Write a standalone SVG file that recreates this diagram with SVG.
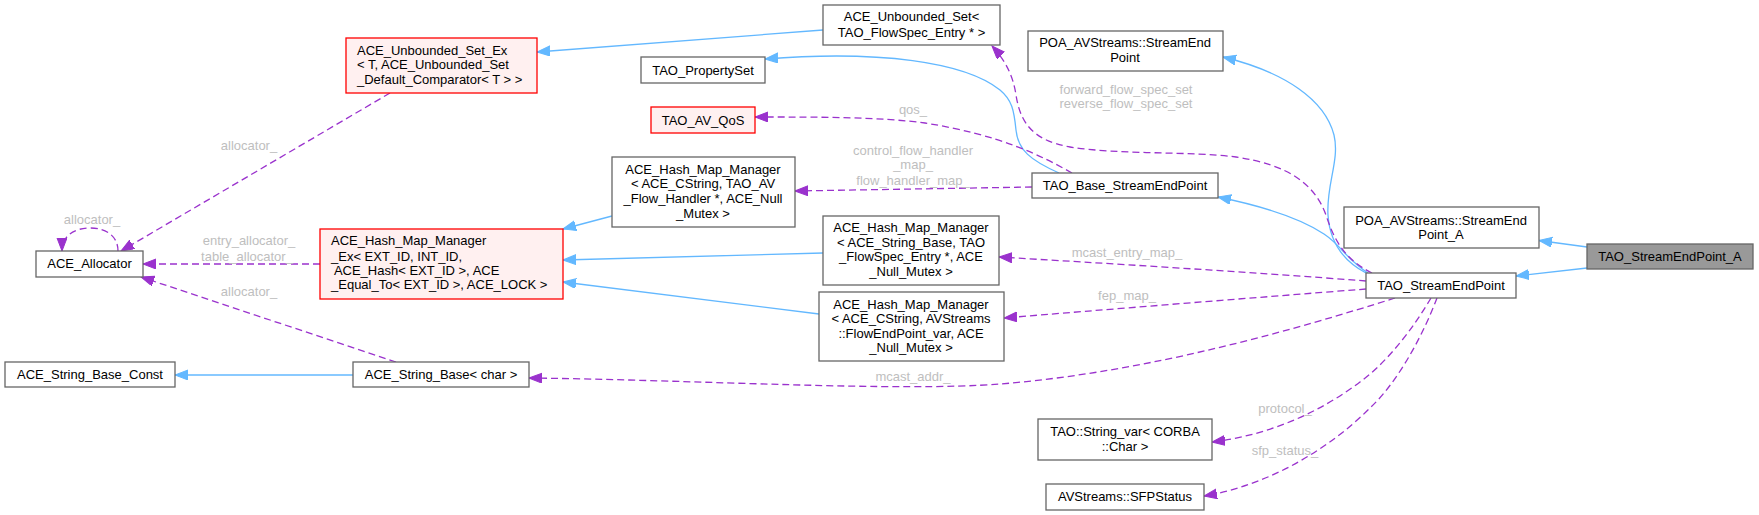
<svg xmlns="http://www.w3.org/2000/svg" width="1759" height="515" viewBox="0 0 1759 515">
<style>
.n rect{fill:#ffffff;stroke:#666666;stroke-width:1.3}
.n.red rect{fill:#fff0f0;stroke:#ff0000}
.n.main rect{fill:#999999;stroke:#666666}
.n text{font-family:"Liberation Sans",Arial,sans-serif;font-size:13px;fill:#000000}
.c{text-anchor:middle}
.lbl{font-family:"Liberation Sans",Arial,sans-serif;font-size:13px;fill:#bebebe;text-anchor:middle}
.inh{fill:none;stroke:#63b8ff;stroke-width:1.3;marker-end:url(#ab)}
.use{fill:none;stroke:#9a32cd;stroke-width:1.3;stroke-dasharray:7,4;marker-end:url(#ap)}
</style>
<defs>
<marker id="ab" markerUnits="userSpaceOnUse" markerWidth="14" markerHeight="11" refX="13" refY="5" orient="auto">
<path d="M0,0 L13,5 L0,10 z" fill="#63b8ff" stroke="#63b8ff"/>
</marker>
<marker id="ap" markerUnits="userSpaceOnUse" markerWidth="14" markerHeight="11" refX="13" refY="5" orient="auto">
<path d="M0,0 L13,5 L0,10 z" fill="#9a32cd" stroke="#9a32cd"/>
</marker>
</defs>
<rect width="1759" height="515" fill="#ffffff"/>
<g id="connectors">
<path class="inh" d="M1587,247 L1539,240.5"/>
<path class="inh" d="M1587,268 L1516,276"/>
<path class="inh" d="M1368,273 C1345,258 1342,246 1324,234 C1300,218 1262,206 1218,197"/>
<path class="inh" d="M1366,273 C1345,262 1330,245 1328,215 C1326,185 1340,160 1334,135 C1325,100 1285,72 1223,57"/>
<path class="inh" d="M1059,173 C1030,160 1018,150 1016,130 C1014,110 1012,100 1000,90 C965,62 880,50 765,59"/>
<path class="inh" d="M612,216 L563,229"/>
<path class="inh" d="M823,253 L563,260"/>
<path class="inh" d="M819,314 L563,282"/>
<path class="inh" d="M823,30 L537,52"/>
<path class="inh" d="M353,375 L175,375"/>
<path class="use" d="M1372,273 C1345,260 1334,240 1326,215 C1315,185 1290,165 1236,157 C1190,151 1120,155 1070,147 C1030,140 1020,120 1016,95 C1013,75 1005,60 992,46"/>
<path class="use" d="M1072,173 C1040,155 1000,135 925,123 C880,117 820,117 755,117"/>
<path class="use" d="M1032,187 L795,191"/>
<path class="use" d="M1366,281 C1250,272 1100,263 999,257"/>
<path class="use" d="M1366,289 C1250,298 1100,310 1004,318"/>
<path class="use" d="M1395,298 C1300,328 1150,372 1000,384 C900,392 700,380 529,378"/>
<path class="use" d="M1431,298 C1415,325 1390,360 1360,382 C1320,412 1270,435 1212,442"/>
<path class="use" d="M1437,298 C1425,330 1400,380 1370,408 C1330,448 1270,485 1204,496"/>
<path class="use" d="M390,93 L121,251"/>
<path class="use" d="M320,264 L143,264"/>
<path class="use" d="M396,362 L141,277"/>
<path class="use" d="M118,251 C118,236 106,228 90,228 C74,228 62,236 62,251"/>
<text class="lbl" x="92" y="223.5">allocator_</text>
<text class="lbl" x="249" y="149.5">allocator_</text>
<text class="lbl" x="249" y="245">entry_allocator_</text>
<text class="lbl" x="247" y="260.5">table_allocator_</text>
<text class="lbl" x="249" y="296">allocator_</text>
<text class="lbl" x="913" y="114">qos_</text>
<text class="lbl" x="913" y="155">control_flow_handler</text>
<text class="lbl" x="913" y="169">_map_</text>
<text class="lbl" x="913" y="184.5">flow_handler_map_</text>
<text class="lbl" x="1126" y="93.5">forward_flow_spec_set</text>
<text class="lbl" x="1126" y="108">reverse_flow_spec_set</text>
<text class="lbl" x="1127" y="257">mcast_entry_map_</text>
<text class="lbl" x="1127" y="299.5">fep_map_</text>
<text class="lbl" x="913" y="380.5">mcast_addr_</text>
<text class="lbl" x="1285" y="413">protocol_</text>
<text class="lbl" x="1285" y="454.5">sfp_status_</text>
</g>
<g id="TAO_StreamEndPoint_A" class="n main"><rect x="1587" y="244" width="166" height="25"/><text class="c" x="1670" y="261">TAO_StreamEndPoint_A</text></g>
<g id="POA_AVStreams_StreamEndPoint_A" class="n"><rect x="1344" y="207" width="195" height="41"/><text class="c" x="1441" y="224.5">POA_AVStreams::StreamEnd</text><text class="c" x="1441" y="239">Point_A</text></g>
<g id="TAO_StreamEndPoint" class="n"><rect x="1366" y="273" width="150" height="25"/><text class="c" x="1441" y="290">TAO_StreamEndPoint</text></g>
<g id="POA_AVStreams_StreamEndPoint" class="n"><rect x="1028" y="31" width="195" height="40"/><text class="c" x="1125" y="47">POA_AVStreams::StreamEnd</text><text class="c" x="1125" y="61.5">Point</text></g>
<g id="TAO_Base_StreamEndPoint" class="n"><rect x="1032" y="173" width="186" height="25"/><text class="c" x="1125" y="190">TAO_Base_StreamEndPoint</text></g>
<g id="ACE_Unbounded_Set" class="n"><rect x="823" y="5" width="177" height="40"/><text class="c" x="911.5" y="21">ACE_Unbounded_Set&lt;</text><text class="c" x="911.5" y="36.5"> TAO_FlowSpec_Entry * &gt;</text></g>
<g id="TAO_PropertySet" class="n"><rect x="641" y="57" width="124" height="26"/><text class="c" x="703" y="74.5">TAO_PropertySet</text></g>
<g id="TAO_AV_QoS" class="n red"><rect x="651" y="107" width="104" height="26"/><text class="c" x="703" y="124.5">TAO_AV_QoS</text></g>
<g id="ACE_Hash_Map_Manager_CString_FlowHandler" class="n"><rect x="612" y="157" width="183" height="70"/><text class="c" x="703" y="173.5">ACE_Hash_Map_Manager</text><text class="c" x="703" y="188">&lt; ACE_CString, TAO_AV</text><text class="c" x="703" y="203">_Flow_Handler *, ACE_Null</text><text class="c" x="703" y="217.5">_Mutex &gt;</text></g>
<g id="ACE_Hash_Map_Manager_StringBase_FlowSpec" class="n"><rect x="823" y="216" width="176" height="69"/><text class="c" x="911" y="232">ACE_Hash_Map_Manager</text><text class="c" x="911" y="246.5">&lt; ACE_String_Base, TAO</text><text class="c" x="911" y="261">_FlowSpec_Entry *, ACE</text><text class="c" x="911" y="275.5">_Null_Mutex &gt;</text></g>
<g id="ACE_Hash_Map_Manager_CString_FlowEndPoint" class="n"><rect x="819" y="292" width="185" height="69"/><text class="c" x="911" y="308.5">ACE_Hash_Map_Manager</text><text class="c" x="911" y="323">&lt; ACE_CString, AVStreams</text><text class="c" x="911" y="337.5">::FlowEndPoint_var, ACE</text><text class="c" x="911" y="352">_Null_Mutex &gt;</text></g>
<g id="TAO_String_var" class="n"><rect x="1038" y="419" width="174" height="41"/><text class="c" x="1125" y="436">TAO::String_var&lt; CORBA</text><text class="c" x="1125" y="451">::Char &gt;</text></g>
<g id="AVStreams_SFPStatus" class="n"><rect x="1046" y="484" width="158" height="26"/><text class="c" x="1125" y="501">AVStreams::SFPStatus</text></g>
<g id="ACE_Unbounded_Set_Ex" class="n red"><rect x="346" y="38" width="191" height="55"/><text x="357" y="54.5">ACE_Unbounded_Set_Ex</text><text x="357" y="69">&lt; T, ACE_Unbounded_Set</text><text x="357" y="83.5">_Default_Comparator&lt; T &gt; &gt;</text></g>
<g id="ACE_Hash_Map_Manager_Ex" class="n red"><rect x="320" y="229" width="243" height="70"/><text x="331" y="245">ACE_Hash_Map_Manager</text><text x="331" y="260.5">_Ex&lt; EXT_ID, INT_ID,</text><text x="331" y="275" xml:space="preserve"> ACE_Hash&lt; EXT_ID &gt;, ACE</text><text x="331" y="289">_Equal_To&lt; EXT_ID &gt;, ACE_LOCK &gt;</text></g>
<g id="ACE_Allocator" class="n"><rect x="36" y="251" width="107" height="26"/><text class="c" x="89.5" y="268">ACE_Allocator</text></g>
<g id="ACE_String_Base_Const" class="n"><rect x="5" y="362" width="170" height="25"/><text class="c" x="90" y="379">ACE_String_Base_Const</text></g>
<g id="ACE_String_Base_char" class="n"><rect x="353" y="362" width="176" height="25"/><text class="c" x="441" y="379">ACE_String_Base&lt; char &gt;</text></g>
</svg>
